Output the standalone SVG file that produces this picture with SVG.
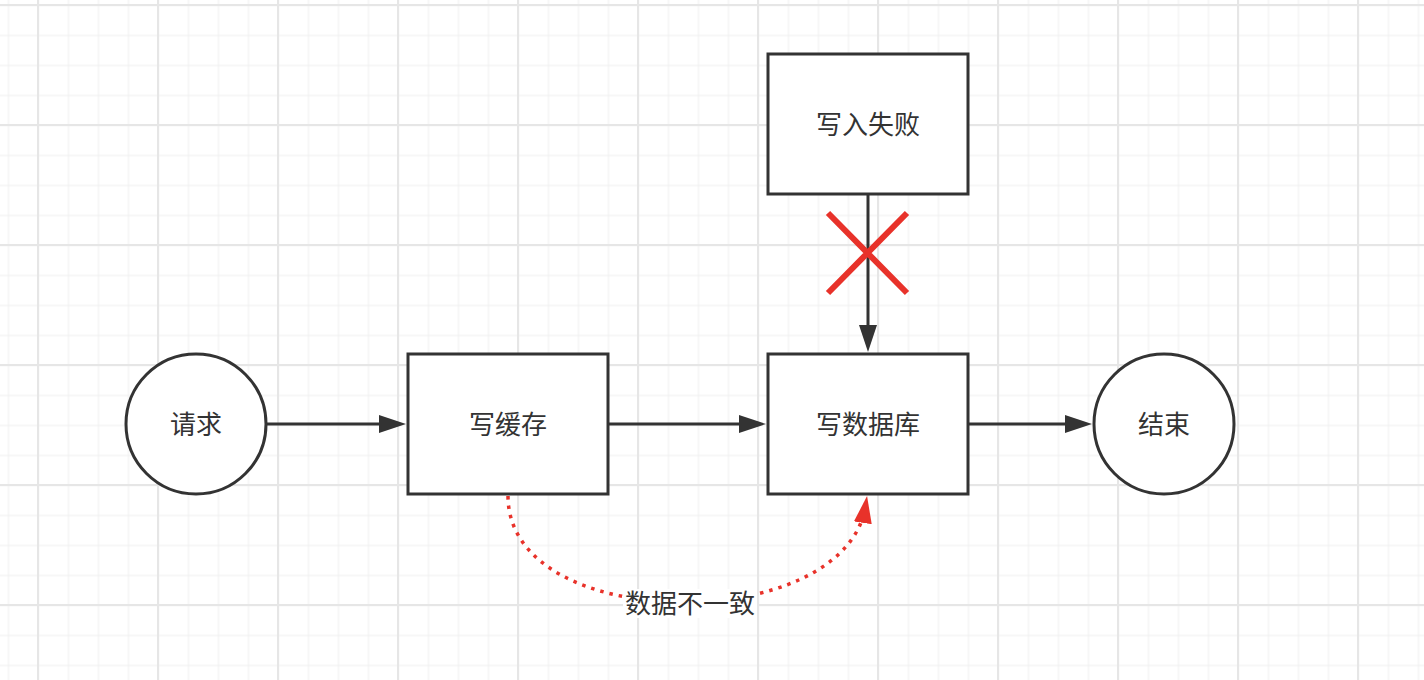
<svg xmlns="http://www.w3.org/2000/svg" width="1424" height="680" viewBox="0 0 1424 680">
  <defs>
    <pattern id="minor" patternUnits="userSpaceOnUse" x="-6.5" y="-9.5" width="30" height="30">
      <path d="M15,0 V30 M0,15 H30" stroke="#efefef" stroke-width="1" fill="none"/>
    </pattern>
    <pattern id="major" patternUnits="userSpaceOnUse" x="-22" y="-55" width="120" height="120">
      <path d="M60,0 V120 M0,60 H120" stroke="#e6e6e6" stroke-width="2" fill="none"/>
    </pattern>
    <marker id="arrow" markerUnits="userSpaceOnUse" markerWidth="28" markerHeight="18" viewBox="0 0 27 18" refX="17" refY="9" orient="auto">
      <path d="M0,0 L27,9 L0,18 z" fill="#333333"/>
    </marker>
    <marker id="arrowRed" markerUnits="userSpaceOnUse" markerWidth="27" markerHeight="18" viewBox="0 0 27 18" refX="17" refY="9" orient="auto">
      <path d="M0,0 L27,9 L0,18 z" fill="#e8322a"/>
    </marker>
  </defs>
  <style>
    .box { fill: #ffffff; stroke: #333333; stroke-width: 3; }
    .label { font-family: "Noto Sans CJK SC", "Noto Sans", sans-serif; font-size: 26px; fill: #333333; text-anchor: middle; dominant-baseline: central; }
    .edge { fill: none; stroke: #333333; stroke-width: 3; }
    .cross { stroke: #e8322a; stroke-width: 6; fill: none; }
    .dotted { fill: none; stroke: #e8322a; stroke-width: 3.5; stroke-dasharray: 3.5 6; }
  </style>
  <rect x="0" y="0" width="1424" height="680" fill="#ffffff"/>
  <rect x="0" y="0" width="1424" height="680" fill="url(#minor)"/>
  <rect x="0" y="0" width="1424" height="680" fill="url(#major)"/>

  <g id="connectors">
    <path class="edge" d="M266,424 H396" marker-end="url(#arrow)"/>
    <path class="edge" d="M608,424 H756" marker-end="url(#arrow)"/>
    <path class="edge" d="M968,424 H1082" marker-end="url(#arrow)"/>
    <path class="edge" d="M868,194 V342" marker-end="url(#arrow)"/>
    <g id="fail-cross">
      <path class="cross" d="M828,213 L907,293 M907,213 L828,293"/>
    </g>
    <path class="dotted" d="M508,496 C508,636 845,636 865.5,506" marker-end="url(#arrowRed)"/>
    <g id="inconsistent-label">
      <rect x="623" y="589" width="134" height="29" fill="#ffffff"/>
      <text class="label" x="690" y="601.5">数据不一致</text>
    </g>
  </g>

  <g id="node-request">
    <circle class="box" cx="196" cy="424" r="70"/>
    <text class="label" x="196" y="422">请求</text>
  </g>
  <g id="node-write-cache">
    <rect class="box" x="408" y="354" width="200" height="140"/>
    <text class="label" x="508" y="422">写缓存</text>
  </g>
  <g id="node-write-db">
    <rect class="box" x="768" y="354" width="200" height="140"/>
    <text class="label" x="868" y="422">写数据库</text>
  </g>
  <g id="node-write-fail">
    <rect class="box" x="768" y="54" width="200" height="140"/>
    <text class="label" x="868" y="122">写入失败</text>
  </g>
  <g id="node-end">
    <circle class="box" cx="1164" cy="424" r="70"/>
    <text class="label" x="1164" y="422">结束</text>
  </g>
</svg>
